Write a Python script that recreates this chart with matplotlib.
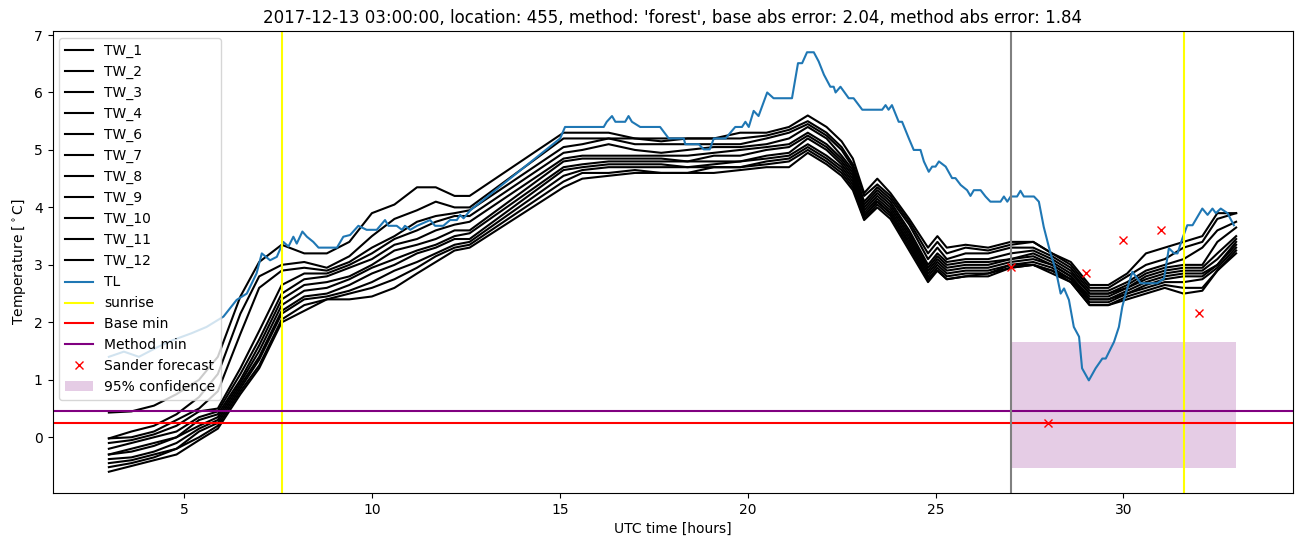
import matplotlib
matplotlib.use("Agg")
import matplotlib.pyplot as plt

# observation times for the road sensors (hours UTC from the start of day)
tw_hours = [3.0, 3.6, 4.2, 4.8, 5.4, 5.9, 6.5, 7.0, 7.6,
            8.2, 8.8, 9.4, 10.0, 10.6, 11.2, 11.7, 12.2, 12.6,
            15.1, 15.6, 16.3, 17.0, 17.7, 18.4, 19.1, 19.8, 20.5,
            21.1, 21.6, 22.1, 22.5, 22.8, 23.1, 23.45, 23.8, 24.3,
            24.8, 25.05, 25.3, 25.8, 26.4, 27.0, 27.6, 28.1, 28.6,
            29.1, 29.6, 30.1, 30.6, 31.1, 31.6, 32.1, 32.5, 33.0]

tw_1 = [0.43, 0.45, 0.55, 0.75, 1.0, 1.4, 2.45, 3.05, 3.35,
        3.2, 3.2, 3.4, 3.9, 4.05, 4.35, 4.35, 4.2, 4.2,
        5.3, 5.3, 5.3, 5.2, 5.2, 5.2, 5.2, 5.3, 5.3,
        5.4, 5.6, 5.4, 5.15, 4.85, 4.25, 4.5, 4.25, 3.8,
        3.3, 3.5, 3.3, 3.35, 3.3, 3.4, 3.4, 3.2, 3.05,
        2.65, 2.65, 2.85, 3.2, 3.3, 3.4, 3.5, 3.9, 3.9]
tw_2 = [-0.02, 0.1, 0.2, 0.4, 0.7, 1.1, 2.15, 2.8, 3.0,
        3.05, 2.95, 3.15, 3.5, 3.8, 3.95, 4.1, 4.0, 4.0,
        5.2, 5.2, 5.2, 5.2, 5.15, 5.2, 5.2, 5.2, 5.25,
        5.35, 5.5, 5.3, 5.05, 4.75, 4.2, 4.4, 4.2, 3.75,
        3.2, 3.4, 3.2, 3.3, 3.25, 3.35, 3.4, 3.2, 3.0,
        2.6, 2.6, 2.8, 3.0, 3.1, 3.3, 3.4, 3.8, 3.9]
tw_3 = [-0.02, 0.0, 0.1, 0.3, 0.5, 0.8, 1.8, 2.6, 2.9,
        2.95, 2.9, 3.05, 3.3, 3.5, 3.75, 3.85, 3.9, 3.95,
        5.05, 5.1, 5.2, 5.1, 5.1, 5.1, 5.1, 5.1, 5.2,
        5.3, 5.45, 5.25, 5.0, 4.7, 4.1, 4.35, 4.15, 3.7,
        3.1, 3.3, 3.1, 3.2, 3.2, 3.3, 3.3, 3.15, 2.95,
        2.55, 2.55, 2.7, 2.9, 3.0, 3.1, 3.3, 3.6, 3.75]
tw_4 = [-0.1, -0.05, 0.05, 0.2, 0.45, 0.5, 1.2, 1.85, 2.65,
        2.85, 2.85, 3.0, 3.2, 3.45, 3.6, 3.75, 3.85, 3.85,
        4.95, 5.0, 5.1, 5.0, 4.95, 5.0, 5.05, 5.05, 5.1,
        5.2, 5.4, 5.2, 4.9, 4.65, 4.05, 4.3, 4.1, 3.6,
        3.0, 3.2, 3.05, 3.1, 3.1, 3.2, 3.25, 3.1, 2.9,
        2.5, 2.5, 2.65, 2.85, 2.95, 3.0, 3.0, 3.4, 3.65]
tw_6 = [-0.2, -0.1, 0.0, 0.1, 0.35, 0.45, 1.1, 1.7, 2.5,
        2.75, 2.8, 2.95, 3.1, 3.35, 3.45, 3.6, 3.7, 3.75,
        4.85, 4.9, 4.9, 4.9, 4.9, 4.9, 4.95, 5.0, 5.05,
        5.1, 5.3, 5.1, 4.85, 4.6, 4.0, 4.25, 4.05, 3.55,
        2.95, 3.15, 3.0, 3.05, 3.05, 3.1, 3.2, 3.05, 2.85,
        2.5, 2.5, 2.6, 2.8, 2.9, 2.95, 2.95, 3.2, 3.5]
tw_7 = [-0.3, -0.2, -0.1, 0.0, 0.3, 0.4, 1.0, 1.6, 2.4,
        2.65, 2.7, 2.8, 3.0, 3.25, 3.35, 3.45, 3.6, 3.6,
        4.8, 4.85, 4.85, 4.85, 4.85, 4.8, 4.9, 4.9, 5.0,
        5.05, 5.25, 5.05, 4.8, 4.55, 3.95, 4.2, 4.0, 3.5,
        2.9, 3.1, 2.95, 3.0, 3.0, 3.1, 3.15, 3.0, 2.8,
        2.45, 2.45, 2.6, 2.75, 2.85, 2.9, 2.9, 3.1, 3.45]
tw_8 = [-0.3, -0.25, -0.15, 0.0, 0.2, 0.35, 0.95, 1.5, 2.3,
        2.55, 2.6, 2.75, 2.95, 3.1, 3.25, 3.35, 3.5, 3.55,
        4.7, 4.75, 4.8, 4.8, 4.8, 4.8, 4.8, 4.8, 4.9,
        4.95, 5.2, 5.0, 4.75, 4.5, 3.9, 4.15, 3.95, 3.45,
        2.85, 3.05, 2.9, 2.95, 2.95, 3.05, 3.1, 3.0, 2.8,
        2.4, 2.4, 2.55, 2.7, 2.8, 2.85, 2.85, 3.0, 3.4]
tw_9 = [-0.38, -0.35, -0.25, -0.1, 0.15, 0.3, 0.9, 1.4, 2.2,
        2.45, 2.5, 2.65, 2.85, 3.0, 3.2, 3.3, 3.45, 3.45,
        4.65, 4.7, 4.75, 4.75, 4.75, 4.7, 4.75, 4.8, 4.85,
        4.9, 5.1, 4.9, 4.7, 4.45, 3.85, 4.1, 3.9, 3.4,
        2.8, 3.0, 2.85, 2.9, 2.9, 3.0, 3.05, 2.95, 2.75,
        2.4, 2.4, 2.5, 2.65, 2.75, 2.8, 2.8, 3.0, 3.35]
tw_10 = [-0.45, -0.4, -0.3, -0.2, 0.1, 0.25, 0.85, 1.35, 2.15,
         2.4, 2.45, 2.55, 2.7, 2.9, 3.05, 3.2, 3.35, 3.4,
         4.55, 4.65, 4.7, 4.7, 4.7, 4.7, 4.7, 4.7, 4.8,
         4.85, 5.05, 4.85, 4.65, 4.4, 3.85, 4.1, 3.9, 3.35,
         2.75, 2.95, 2.8, 2.85, 2.85, 3.0, 3.0, 2.9, 2.75,
         2.35, 2.35, 2.5, 2.6, 2.7, 2.7, 2.75, 2.95, 3.3]
tw_11 = [-0.52, -0.45, -0.35, -0.2, 0.0, 0.2, 0.8, 1.25, 2.05,
         2.3, 2.4, 2.5, 2.6, 2.75, 2.95, 3.15, 3.3, 3.35,
         4.45, 4.6, 4.6, 4.65, 4.6, 4.6, 4.7, 4.7, 4.75,
         4.8, 5.0, 4.8, 4.6, 4.35, 3.8, 4.05, 3.85, 3.3,
         2.75, 2.9, 2.75, 2.8, 2.85, 2.95, 3.0, 2.9, 2.7,
         2.3, 2.3, 2.45, 2.55, 2.65, 2.6, 2.6, 2.9, 3.25]
tw_12 = [-0.6, -0.5, -0.4, -0.3, -0.05, 0.15, 0.75, 1.2, 2.0,
         2.2, 2.4, 2.4, 2.45, 2.6, 2.85, 3.05, 3.25, 3.3,
         4.35, 4.5, 4.55, 4.6, 4.6, 4.6, 4.6, 4.65, 4.7,
         4.7, 4.95, 4.75, 4.55, 4.3, 3.78, 4.0, 3.8, 3.25,
         2.7, 2.9, 2.75, 2.8, 2.8, 2.95, 3.0, 2.85, 2.7,
         2.3, 2.3, 2.4, 2.5, 2.6, 2.5, 2.55, 2.9, 3.2]

tw_names = ["TW_1", "TW_2", "TW_3", "TW_4", "TW_6", "TW_7", "TW_8",
            "TW_9", "TW_10", "TW_11", "TW_12"]
tw_values = [tw_1, tw_2, tw_3, tw_4, tw_6, tw_7, tw_8, tw_9, tw_10, tw_11, tw_12]

# air temperature
tl_hours = [3.0, 3.4, 3.8, 4.3, 4.7, 5.2, 5.6, 6.05, 6.4, 6.67, 6.93, 7.07,
            7.29, 7.47, 7.64, 7.78, 7.91, 8.0, 8.15, 8.27, 8.44, 8.58, 9.07,
            9.24, 9.42, 9.64, 9.86, 10.13, 10.35, 10.44, 10.66, 10.8, 10.88,
            11.02, 11.2, 11.55, 11.68, 11.9, 12.08, 12.26, 12.35, 12.44, 12.62,
            15.01, 15.14, 16.17, 16.25, 16.39, 16.48, 16.74, 16.83, 16.92,
            17.14, 17.67, 17.9, 18.3, 18.34, 18.7, 18.83, 18.99, 19.1, 19.41,
            19.54, 19.67, 19.85, 19.94, 20.03, 20.16, 20.29, 20.52, 20.69,
            21.18, 21.34, 21.45, 21.58, 21.76, 21.89, 22.03, 22.2, 22.29,
            22.34, 22.47, 22.69, 22.82, 23.05, 23.58, 23.67, 23.75, 23.84,
            24.02, 24.11, 24.29, 24.42, 24.6, 24.69, 24.82, 24.91, 25.0,
            25.09, 25.27, 25.44, 25.53, 25.67, 25.84, 25.93, 26.02, 26.2,
            26.33, 26.46, 26.73, 26.82, 26.91, 27.0, 27.17, 27.26, 27.35,
            27.62, 27.75, 27.88, 28.06, 28.2, 28.33, 28.42, 28.55, 28.68,
            28.82, 28.9, 29.08, 29.26, 29.44, 29.53, 29.75, 29.88, 29.97,
            30.06, 30.24, 30.37, 30.46, 30.9, 31.08, 31.21, 31.35, 31.44,
            31.57, 31.7, 31.84, 32.1, 32.24, 32.37, 32.46, 32.59, 32.77, 32.94]
tl = [1.40, 1.49, 1.40, 1.57, 1.69, 1.81, 1.92, 2.10, 2.39, 2.50, 2.85, 3.20,
      3.08, 3.14, 3.40, 3.32, 3.49, 3.37, 3.58, 3.49, 3.40, 3.30, 3.30,
      3.49, 3.52, 3.68, 3.61, 3.61, 3.78, 3.68, 3.68, 3.61, 3.68,
      3.61, 3.68, 3.78, 3.68, 3.68, 3.78, 3.78, 3.87, 3.81, 3.95,
      5.20, 5.40, 5.40, 5.49, 5.59, 5.49, 5.49, 5.59, 5.49,
      5.40, 5.40, 5.20, 5.20, 5.10, 5.10, 5.01, 5.01, 5.20, 5.20,
      5.30, 5.40, 5.40, 5.49, 5.40, 5.68, 5.59, 6.00, 5.90,
      5.90, 6.51, 6.51, 6.70, 6.70, 6.54, 6.31, 6.10, 6.10,
      6.00, 6.10, 5.90, 5.90, 5.70, 5.70, 5.78, 5.70, 5.78,
      5.49, 5.49, 5.20, 5.00, 5.00, 4.80, 4.62, 4.71, 4.71,
      4.80, 4.71, 4.51, 4.51, 4.39, 4.30, 4.20, 4.30, 4.30,
      4.19, 4.10, 4.10, 4.19, 4.10, 4.19, 4.19, 4.29, 4.19,
      4.19, 4.10, 3.66, 3.20, 2.91, 2.50, 2.59, 2.39, 1.92,
      1.75, 1.20, 0.99, 1.20, 1.37, 1.37, 1.66, 1.92, 2.27,
      2.50, 2.88, 2.76, 2.68, 2.68, 2.76, 3.29, 3.20, 3.20,
      3.46, 3.69, 3.69, 3.98, 3.87, 3.98, 3.90, 3.98, 3.90, 3.69]

sunrise_hours = [7.61, 31.62]
forecast_hour = 27.0
base_min = 0.25
method_min = 0.45

sander_hours = [27, 28, 29, 30, 31, 32]
sander_temp = [2.97, 0.25, 2.85, 3.44, 3.61, 2.17]

conf_hours = [27.0, 33.0]
conf_low = -0.53
conf_high = 1.65

fig = plt.figure(figsize=(13.02, 5.47), dpi=100)
ax = fig.add_subplot(111)
fig.subplots_adjust(left=52.5/1302, right=1292.5/1302, bottom=1-493/547, top=1-31/547)

for name, vals in zip(tw_names, tw_values):
    ax.plot(tw_hours, vals, color="black", label=name)
ax.plot(tl_hours, tl, color="C0", label="TL")

ax.axvline(sunrise_hours[0], color="yellow", label="sunrise")
ax.axvline(sunrise_hours[1], color="yellow")
ax.axhline(base_min, color="red", label="Base min")
ax.axhline(method_min, color="purple", label="Method min")
ax.axvline(forecast_hour, color="gray")
ax.plot(sander_hours, sander_temp, "rx", label="Sander forecast")
ax.fill_between(conf_hours, conf_low, conf_high, color="purple", alpha=0.2,
                linewidth=0, label="95% confidence")

ax.set_xlim(1.5, 34.5)
ax.set_ylim(-0.97, 7.07)
ax.set_xlabel("UTC time [hours]")
ax.set_ylabel("Temperature [$^\\circ$C]")
ax.set_title("2017-12-13 03:00:00, location: 455, method: 'forest', "
             "base abs error: 2.04, method abs error: 1.84")
ax.legend(loc="upper left")

fig.savefig("out.png", dpi=100)
